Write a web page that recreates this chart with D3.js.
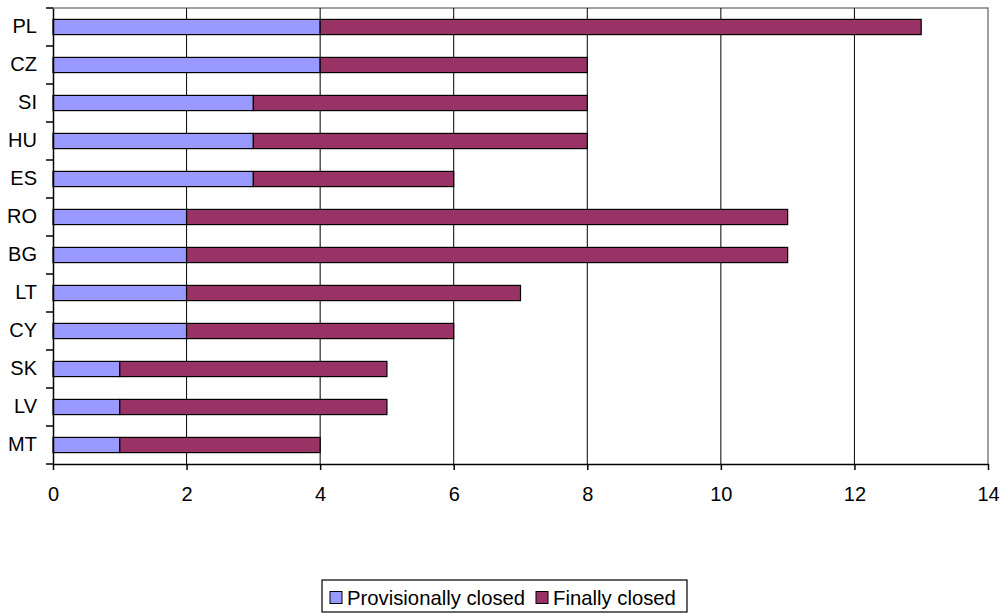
<!DOCTYPE html>
<html>
<head>
<meta charset="utf-8">
<script src="https://cdn.jsdelivr.net/npm/d3@7"></script>
<style>
  body { margin: 0; background: #fff; }
  text { font-family: "Liberation Sans", Arial, sans-serif; }
</style>
</head>
<body>
<svg width="1006" height="613"></svg>
<script>
const categories = ["PL", "CZ", "SI", "HU", "ES", "RO", "BG", "LT", "CY", "SK", "LV", "MT"];
const provisional = [4, 4, 3, 3, 3, 2, 2, 2, 2, 1, 1, 1];
const finalClosed = [9, 4, 5, 5, 3, 9, 9, 5, 4, 4, 4, 3];
const seriesNames = ["Provisionally closed", "Finally closed"];
const xTicks = [0, 2, 4, 6, 8, 10, 12, 14];

const colors = ["#9999ff", "#993366"];

const plotLeft = 53, plotRight = 988, plotTop = 8, plotBottom = 464;

const svg = d3.select("svg");

const x = d3.scaleLinear().domain([0, 14]).range([plotLeft, plotRight]);
const y = d3.scaleBand().domain(categories).range([plotTop, plotBottom]).paddingInner(0.6).paddingOuter(0.3);

// plot border (top/right grey)
svg.append("path")
  .attr("d", `M${plotLeft},${plotTop}H${plotRight}V${plotBottom}`)
  .attr("fill", "none")
  .attr("stroke", "#808080")
  .attr("stroke-width", 1.5);

// vertical gridlines
svg.append("g")
  .selectAll("line")
  .data(xTicks.filter((t) => t > 0 && t < 14))
  .enter()
  .append("line")
  .attr("x1", (d) => x(d))
  .attr("x2", (d) => x(d))
  .attr("y1", plotTop)
  .attr("y2", plotBottom)
  .attr("stroke", "#000")
  .attr("stroke-width", 1);

// stacked bars
const rows = categories.map((c, i) => ({ c, p: provisional[i], f: finalClosed[i] }));

const bars = svg.append("g")
  .selectAll("g")
  .data(rows)
  .enter()
  .append("g");

bars.append("rect")
  .attr("x", (d) => x(0))
  .attr("y", (d) => y(d.c))
  .attr("width", (d) => x(d.p) - x(0))
  .attr("height", y.bandwidth())
  .attr("fill", colors[0])
  .attr("stroke", "#000")
  .attr("stroke-width", 1.2);

bars.append("rect")
  .attr("x", (d) => x(d.p))
  .attr("y", (d) => y(d.c))
  .attr("width", (d) => x(d.p + d.f) - x(d.p))
  .attr("height", y.bandwidth())
  .attr("fill", colors[1])
  .attr("stroke", "#000")
  .attr("stroke-width", 1.2);

// x axis
const xAxis = svg.append("g")
  .attr("transform", `translate(0,${plotBottom})`)
  .call(d3.axisBottom(x).tickValues(xTicks).tickSize(6).tickSizeOuter(0).tickPadding(17));
xAxis.select(".domain").attr("stroke", "#000").attr("stroke-width", 1.5);
xAxis.selectAll(".tick line").attr("stroke", "#000").attr("stroke-width", 1.5);
xAxis.selectAll("text").attr("font-size", 20).attr("fill", "#000")
  .style("font-family", "'Liberation Sans', Arial, sans-serif");

// y axis
const yAxis = svg.append("g")
  .attr("transform", `translate(${plotLeft},0)`)
  .call(d3.axisLeft(y).tickSize(0).tickPadding(16));
yAxis.select(".domain").attr("stroke", "#000").attr("stroke-width", 1.5);
yAxis.selectAll("text").attr("font-size", 20).attr("fill", "#000")
  .style("font-family", "'Liberation Sans', Arial, sans-serif");

// y ticks at band boundaries
const step = (plotBottom - plotTop) / categories.length;
svg.append("g")
  .selectAll("line")
  .data(d3.range(categories.length + 1))
  .enter()
  .append("line")
  .attr("x1", plotLeft - 7)
  .attr("x2", plotLeft)
  .attr("y1", (i) => plotTop + i * step)
  .attr("y2", (i) => plotTop + i * step)
  .attr("stroke", "#000")
  .attr("stroke-width", 1.5);

// legend
const legend = svg.append("g").attr("transform", "translate(322,580)");
legend.append("rect")
  .attr("width", 365)
  .attr("height", 32)
  .attr("fill", "#fff")
  .attr("stroke", "#000")
  .attr("stroke-width", 1.2);

const itemX = [8, 214];
const items = legend.selectAll(".item")
  .data(seriesNames)
  .enter()
  .append("g")
  .attr("class", "item")
  .attr("transform", (d, i) => `translate(${itemX[i]},0)`);

items.append("rect")
  .attr("y", 11.5)
  .attr("width", 12)
  .attr("height", 12)
  .attr("fill", (d, i) => colors[i])
  .attr("stroke", "#000")
  .attr("stroke-width", 1);

items.append("text")
  .attr("x", 17)
  .attr("y", 25)
  .attr("font-size", 20.3)
  .text((d) => d);
</script>
</body>
</html>
